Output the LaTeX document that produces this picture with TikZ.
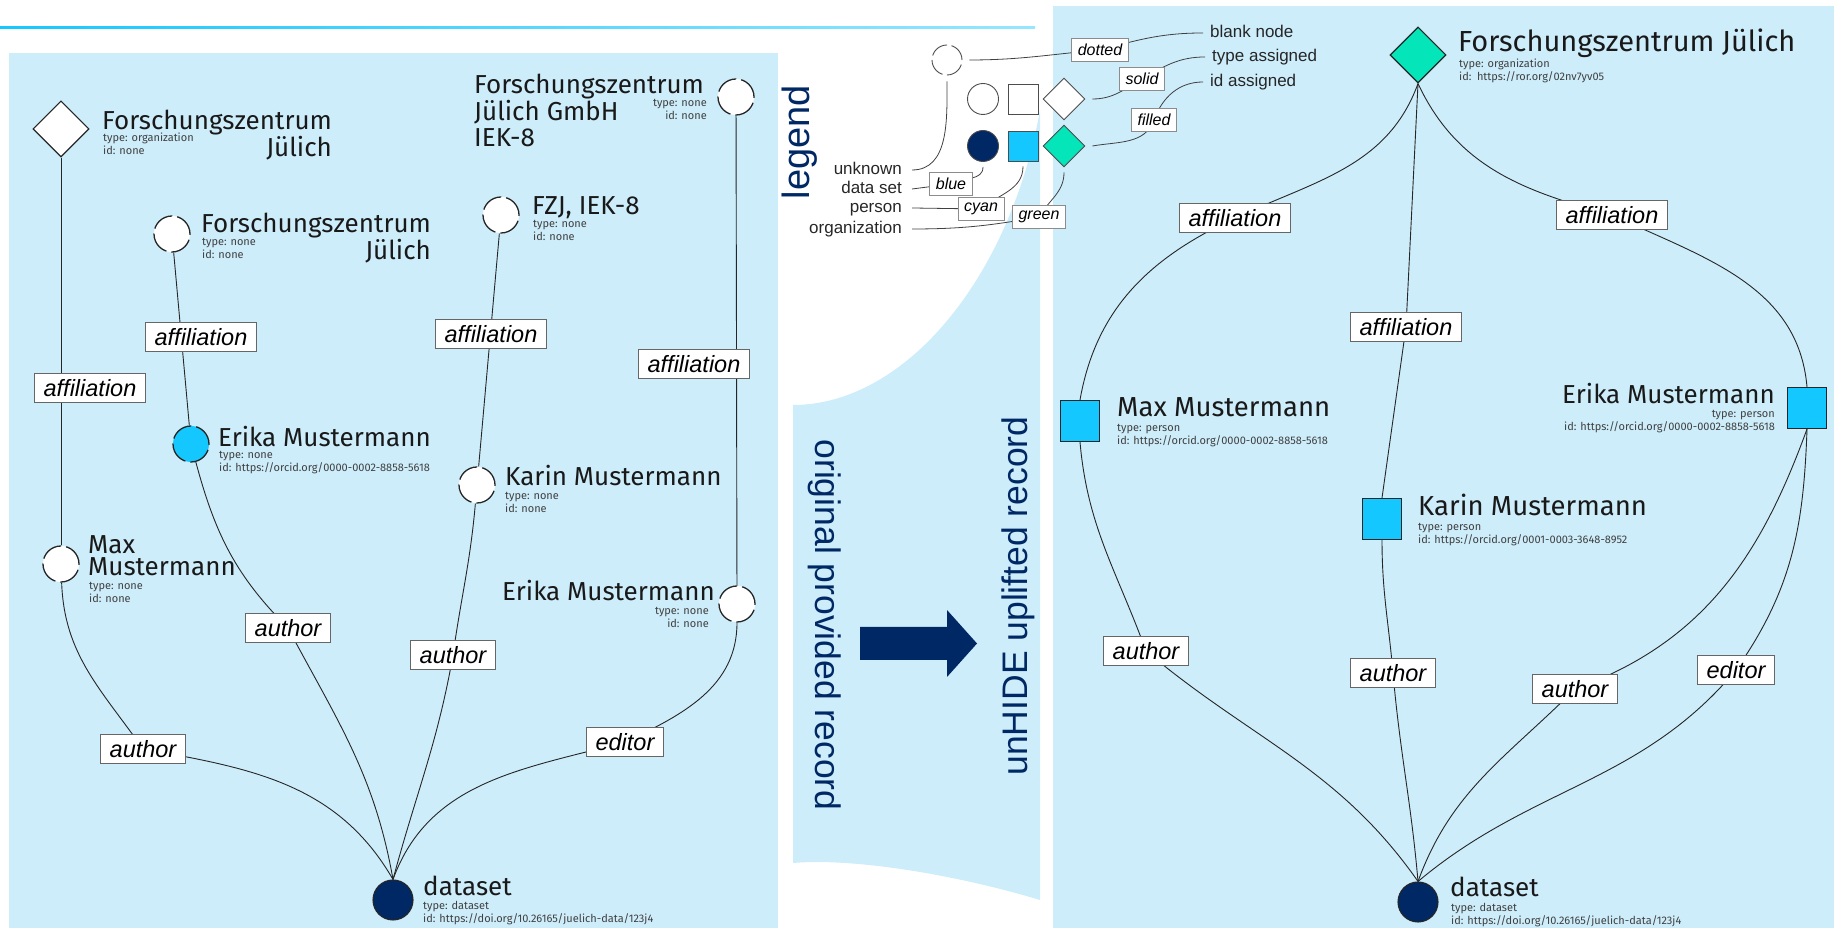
\documentclass[tikz,border=0pt]{standalone}
\usepackage{fontspec}
\setmainfont{Fira Sans}
\newfontfamily\arialfont{Liberation Sans}
\usepackage{xcolor}
\usepackage{tikz}
\usetikzlibrary{shapes.geometric}

\definecolor{panelblue}{HTML}{CDEDFA}
\definecolor{hzbnavy}{HTML}{002864}
\definecolor{hzbcyan}{HTML}{14C8FF}
\definecolor{hzbmint}{HTML}{05E5BA}

\newcommand{\nmfont}{\fontsize{26}{27}\selectfont}
\newcommand{\mtfont}{\fontsize{11}{13}\selectfont}
\newcommand{\edfont}{\arialfont\itshape\fontsize{23.5}{26}\selectfont}
\newcommand{\lgfont}{\arialfont\fontsize{17}{20}\selectfont}
\newcommand{\lbfont}{\arialfont\itshape\fontsize{16}{18}\selectfont}
\newcommand{\ttlfont}{\arialfont\fontsize{35.5}{40}\selectfont}

\tikzset{
	link/.style={line width=0.9pt, color=black!85},
	leglink/.style={line width=0.8pt, color=black!75},
	elabel/.style={draw=black!60, fill=white, line width=0.8pt, font=\edfont, inner xsep=9pt, inner ysep=0pt, minimum height=29pt},
	legbox/.style={draw=black!45, fill=white, line width=0.8pt, font=\lbfont, inner xsep=6pt, inner ysep=0pt, minimum height=23pt},
	blanknode/.style={circle, draw=black!85, fill=white, line width=1.3pt, dash pattern=on 23pt off 5pt, minimum size=36pt, inner sep=0pt},
	orgnode/.style={diamond, aspect=1, draw=black!85, line width=1.1pt, minimum size=56pt, inner sep=0pt},
	personnode/.style={rectangle, draw=black!85, fill=hzbcyan, line width=1.1pt, minimum width=39pt, minimum height=41pt, inner sep=0pt},
	datanode/.style={circle, draw=black!85, fill=hzbnavy, line width=1.1pt, minimum size=40pt, inner sep=0pt},
	nametext/.style={font=\nmfont, inner sep=0pt, text=black!90},
	metatext/.style={font=\mtfont, inner sep=0pt, text=black!75},
	legtext/.style={font=\lgfont, inner sep=0pt, text=black!85, text height=12pt, text depth=3.5pt},
	legshape/.style={draw=black!70, line width=0.9pt, inner sep=0pt},
	sidetitle/.style={font=\ttlfont, text=hzbnavy, inner sep=0pt}
}

\begin{document}
\begin{tikzpicture}
	\useasboundingbox (0pt, 0pt) rectangle (1834pt, 928pt);
	% panels
	\shade[left color=hzbcyan, right color=hzbcyan!45] (0pt, 899pt) rectangle (1035pt, 901pt);
	\fill[color=panelblue] (9pt, 0pt) rectangle (778pt, 875pt);
	\fill[color=panelblue] (1053pt, 0pt) rectangle (1834pt, 922pt);
	\fill[color=panelblue] (793pt, 65pt) .. controls (850pt, 70pt) and (950pt, 55pt) .. (1040pt, 28pt) -- (1040pt, 818pt) .. controls (1010pt, 650pt) and (905pt, 523pt) .. (793pt, 523pt) -- cycle;

	% titles and arrow
	\node[sidetitle, rotate=90, font=\arialfont\fontsize{38}{40}\selectfont] (legtitle) at (800pt, 786pt) {legend};
	\node[sidetitle, rotate=-90] (origtitle) at (825pt, 303pt) {original provided record};
	\node[sidetitle, rotate=90] (uhtitle) at (1018pt, 332pt) {unHIDE uplifted record};
	\fill[color=hzbnavy] (860pt, 268pt) -- (947pt, 268pt) -- (947pt, 251pt) -- (977pt, 284.5pt) -- (947pt, 318pt) -- (947pt, 301pt) -- (860pt, 301pt) -- cycle;

	% legend
	\node[blanknode, draw=black!70, line width=0.9pt, minimum size=30pt, dash pattern=on 19pt off 4.5pt] (legBlank) at (947pt, 868pt) {};
	\node[legshape, circle, fill=white, minimum size=31pt] (legCircW) at (983pt, 829pt) {};
	\node[legshape, rectangle, fill=white, minimum size=30pt] (legSqW) at (1023pt, 829pt) {};
	\node[legshape, diamond, aspect=1, fill=white, minimum size=42pt] (legDiaW) at (1064pt, 829pt) {};
	\node[legshape, circle, fill=hzbnavy, minimum size=31pt] (legCircB) at (983pt, 782pt) {};
	\node[legshape, rectangle, fill=hzbcyan, minimum size=30pt] (legSqC) at (1023pt, 782pt) {};
	\node[legshape, diamond, aspect=1, fill=hzbmint, minimum size=42pt] (legDiaG) at (1064pt, 782pt) {};
	\node[legtext, anchor=east] (unknownTxt) at (902pt, 758pt) {unknown};
	\node[legtext, anchor=east] (datasetTxt) at (902pt, 739pt) {data set};
	\node[legtext, anchor=east] (personTxt) at (902pt, 720pt) {person};
	\node[legtext, anchor=east] (orgTxt) at (902pt, 699pt) {organization};
	\node[legtext, anchor=west] (blankTxt) at (1210pt, 895pt) {blank node};
	\node[legtext, anchor=west] (typeTxt) at (1212pt, 871pt) {type assigned};
	\node[legtext, anchor=west] (idTxt) at (1210pt, 846pt) {id assigned};
	\coordinate (lgDot) at (1100pt, 878pt);
	\coordinate (lgSol) at (1142pt, 849pt);
	\coordinate (lgFil) at (1154pt, 808pt);
	\coordinate (lgBlue) at (951pt, 744pt);
	\coordinate (lgCyan) at (981pt, 719pt);
	\coordinate (lgGreen) at (1039pt, 711pt);
	\draw[leglink] ([yshift=-6pt]legBlank.south) to[out=-90, in=0] ([xshift=10pt]unknownTxt.east);
	\draw[leglink] ([xshift=7pt]legBlank.east) to[out=0, in=185] (lgDot) to[out=15, in=180] ([xshift=-7pt]blankTxt.west);
	\draw[leglink] ([xshift=7pt]legDiaW.east) to[out=0, in=210] (lgSol) to[out=30, in=180] ([xshift=-7pt]typeTxt.west);
	\draw[leglink] ([xshift=7pt]legDiaG.east) to[out=10, in=250] (lgFil) to[out=70, in=180] ([xshift=-7pt]idTxt.west);
	\draw[leglink] ([xshift=10pt]datasetTxt.east) -- (lgBlue) to[out=30, in=-90] ([yshift=-5pt]legCircB.south);
	\draw[leglink] ([xshift=10pt]personTxt.east) -- (lgCyan) to[out=40, in=-90] ([yshift=-5pt]legSqC.south);
	\draw[leglink] ([xshift=10pt]orgTxt.east) to[out=0, in=190] (lgGreen) to[out=60, in=-90] ([yshift=-5pt]legDiaG.south);
	\node[legbox] (lbDot) at (lgDot) {dotted};
	\node[legbox] (lbSol) at (lgSol) {solid};
	\node[legbox] (lbFil) at (lgFil) {filled};
	\node[legbox] (lbBlue) at (lgBlue) {blue};
	\node[legbox] (lbCyan) at (lgCyan) {cyan};
	\node[legbox] (lbGreen) at (lgGreen) {green};

	% original record
	\node[orgnode, fill=white] (orgL) at (61pt, 799pt) {};
	\node[blanknode] (fzjuL) at (172pt, 694pt) {};
	\node[blanknode] (gmbhL) at (736pt, 831pt) {};
	\node[blanknode] (fzjL) at (501pt, 713pt) {};
	\node[blanknode] (maxL) at (61pt, 364pt) {};
	\node[blanknode, fill=hzbcyan] (erikaL) at (191pt, 484pt) {};
	\node[blanknode] (karinL) at (477pt, 443pt) {};
	\node[blanknode] (erika2L) at (737pt, 324pt) {};
	\node[datanode] (dsL) at (393pt, 28pt) {};

	\node[nametext, anchor=north west, align=right] (orgLname) at (102pt, 818pt) {Forschungszentrum\\Jülich};
	\node[metatext, anchor=north west, align=left] (orgLmeta) at (103pt, 795pt) {type: organization\\id: none};
	\node[nametext, anchor=north west, align=right] (fzjuLname) at (201pt, 715pt) {Forschungszentrum\\Jülich};
	\node[metatext, anchor=north west, align=left] (fzjuLmeta) at (202pt, 690pt) {type: none\\id: none};
	\node[nametext, anchor=north west, align=left, font=\fontsize{26}{26.5}\selectfont] (gmbhLname) at (474pt, 854pt) {Forschungszentrum\\Jülich GmbH\\IEK-8};
	\node[metatext, anchor=north east, align=right] (gmbhLmeta) at (707pt, 829pt) {type: none\\id: none};
	\node[nametext, anchor=base west] (fzjLname) at (532pt, 713pt) {FZJ, IEK-8};
	\node[metatext, anchor=north west, align=left] (fzjLmeta) at (533pt, 708pt) {type: none\\id: none};
	\node[nametext, anchor=north west, align=left, font=\fontsize{26}{22.5}\selectfont] (maxLname) at (88pt, 393pt) {Max\\Mustermann};
	\node[metatext, anchor=north west, align=left] (maxLmeta) at (89pt, 346pt) {type: none\\id: none};
	\node[nametext, anchor=base west] (erikaLname) at (218pt, 481pt) {Erika Mustermann};
	\node[metatext, anchor=north west, align=left] (erikaLmeta) at (219pt, 477pt) {type: none\\id: https://orcid.org/0000-0002-8858-5618};
	\node[nametext, anchor=base west] (karinLname) at (505pt, 442pt) {Karin Mustermann};
	\node[metatext, anchor=north west, align=left] (karinLmeta) at (505pt, 436pt) {type: none\\id: none};
	\node[nametext, anchor=base east] (erika2Lname) at (715pt, 327pt) {Erika Mustermann};
	\node[metatext, anchor=north east, align=right] (erika2Lmeta) at (709pt, 321pt) {type: none\\id: none};
	\node[nametext, anchor=base west] (dsLname) at (423pt, 32pt) {dataset};
	\node[metatext, anchor=north west, align=left] (dsLmeta) at (423pt, 27pt) {type: dataset\\id: https://doi.org/10.26165/juelich-data/123j4};

	\coordinate (a2) at (143pt, 179pt);
	\coordinate (a4) at (288pt, 300pt);
	\coordinate (a6) at (453pt, 273pt);
	\coordinate (a8) at (625pt, 186pt);
	\draw[link] (orgL) -- (maxL);
	\draw[link] (maxL) to[out=-88, in=125] (a2) to[out=-10, in=120] (dsL.north);
	\draw[link] (fzjuL) -- (erikaL);
	\draw[link] (erikaL) to[out=-75, in=135] (a4) to[out=-62, in=100] (dsL.north);
	\draw[link] (fzjL) -- (karinL);
	\draw[link] (karinL) to[out=-95, in=82] (a6) to[out=-100, in=75] (dsL.north);
	\draw[link] (gmbhL) -- (erika2L);
	\draw[link] (erika2L) to[out=-90, in=25] (a8) to[out=195, in=70] (dsL.north);
	\node[elabel] (affL1) at (90pt, 540pt) {affiliation};
	\node[elabel] (autL1) at (a2) {author};
	\node[elabel] (affL2) at (201pt, 591pt) {affiliation};
	\node[elabel] (autL2) at (a4) {author};
	\node[elabel] (affL3) at (491pt, 594pt) {affiliation};
	\node[elabel] (autL3) at (a6) {author};
	\node[elabel] (affL4) at (694pt, 564pt) {affiliation};
	\node[elabel] (ediL) at (a8) {editor};

	% uplifted record
	\node[orgnode, fill=hzbmint] (orgR) at (1418pt, 873pt) {};
	\node[personnode] (maxR) at (1080pt, 507pt) {};
	\node[personnode] (karinR) at (1382pt, 409pt) {};
	\node[personnode] (erikaR) at (1807pt, 520pt) {};
	\node[datanode] (dsR) at (1418pt, 26pt) {};

	\node[nametext, anchor=base west, font=\fontsize{29}{30}\selectfont] (orgRname) at (1458pt, 876pt) {Forschungszentrum Jülich};
	\node[metatext, anchor=north west, align=left] (orgRmeta) at (1459pt, 869pt) {type: organization\\id:\enspace https://ror.org/02nv7yv05};
	\node[nametext, anchor=base west, font=\fontsize{27.5}{28}\selectfont] (maxRname) at (1117pt, 511pt) {Max Mustermann};
	\node[metatext, anchor=north west, align=left] (maxRmeta) at (1117pt, 504pt) {type: person\\id: https://orcid.org/0000-0002-8858-5618};
	\node[nametext, anchor=base west, font=\fontsize{27.5}{28}\selectfont] (karinRname) at (1418pt, 412pt) {Karin Mustermann};
	\node[metatext, anchor=north west, align=left] (karinRmeta) at (1418pt, 405pt) {type: person\\id: https://orcid.org/0001-0003-3648-8952};
	\node[nametext, anchor=base east] (erikaRname) at (1775pt, 524pt) {Erika Mustermann};
	\node[metatext, anchor=north east, align=right] (erikaRmeta) at (1775pt, 518pt) {type: person\\id: https://orcid.org/0000-0002-8858-5618};
	\node[nametext, anchor=base west] (dsRname) at (1450pt, 31pt) {dataset};
	\node[metatext, anchor=north west, align=left] (dsRmeta) at (1451pt, 25pt) {type: dataset\\id: https://doi.org/10.26165/juelich-data/123j4};

	\coordinate (b1) at (1235pt, 710pt);
	\coordinate (b2) at (1406pt, 601pt);
	\coordinate (b3) at (1612pt, 713pt);
	\coordinate (b4) at (1146pt, 277pt);
	\coordinate (b5) at (1393pt, 255pt);
	\coordinate (b6) at (1575pt, 239pt);
	\coordinate (b7) at (1736pt, 258pt);
	\draw[link] (orgR.south) to[out=-110, in=25] (b1) to[out=205, in=80] (maxR.north);
	\draw[link] (orgR.south) -- (b2) -- (karinR.north);
	\draw[link] (orgR.south) to[out=-65, in=165] (b3) to[out=-25, in=95] (erikaR.north);
	\draw[link] (maxR.south) to[out=-85, in=110] (b4) to[out=-40, in=125] (dsR.north);
	\draw[link] (karinR.south) to[out=-90, in=95] (b5) to[out=-85, in=95] (dsR.north);
	\draw[link] (erikaR.south) to[out=-110, in=20] (b6) to[out=225, in=70] (dsR.north);
	\draw[link] (erikaR.south) to[out=-92, in=55] (b7) to[out=230, in=40] (dsR.north);
	\node[elabel] (affR1) at (b1) {affiliation};
	\node[elabel] (affR2) at (b2) {affiliation};
	\node[elabel] (affR3) at (b3) {affiliation};
	\node[elabel] (autR1) at (b4) {author};
	\node[elabel] (autR2) at (b5) {author};
	\node[elabel] (autR3) at (b6) {author};
	\node[elabel] (ediR) at (b7) {editor};
\end{tikzpicture}
\end{document}
